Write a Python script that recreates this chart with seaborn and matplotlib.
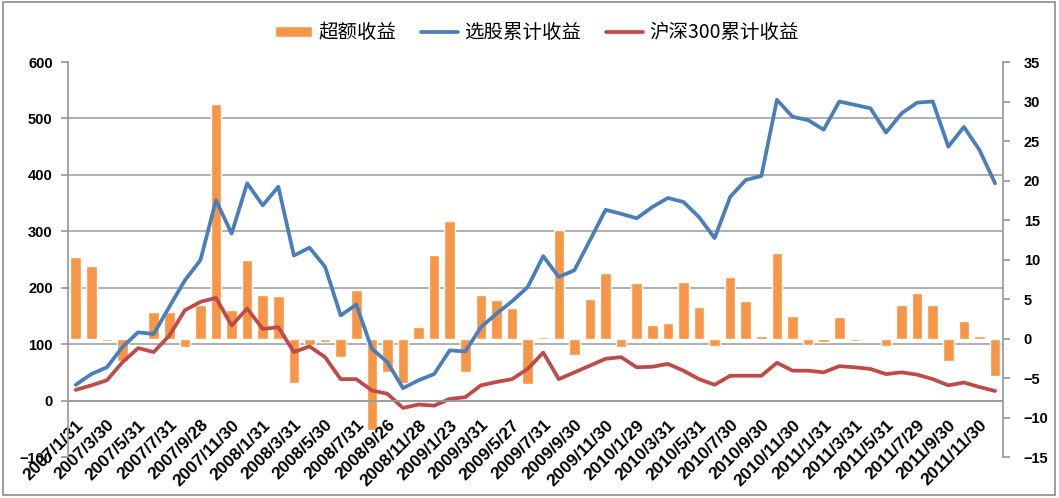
import numpy as np
import pandas as pd
import seaborn as sns
import matplotlib.pyplot as plt
from matplotlib.patches import Rectangle

# month-end dates, 2007/1 .. 2011/12
dates = [
    '2007/1/31', '2007/2/28', '2007/3/30', '2007/4/30', '2007/5/31', '2007/6/29',
    '2007/7/31', '2007/8/31', '2007/9/28', '2007/10/31', '2007/11/30', '2007/12/28',
    '2008/1/31', '2008/2/29', '2008/3/31', '2008/4/30', '2008/5/30', '2008/6/30',
    '2008/7/31', '2008/8/29', '2008/9/26', '2008/10/31', '2008/11/28', '2008/12/31',
    '2009/1/23', '2009/2/27', '2009/3/31', '2009/4/30', '2009/5/27', '2009/6/30',
    '2009/7/31', '2009/8/31', '2009/9/30', '2009/10/30', '2009/11/30', '2009/12/31',
    '2010/1/29', '2010/2/26', '2010/3/31', '2010/4/30', '2010/5/31', '2010/6/30',
    '2010/7/30', '2010/8/31', '2010/9/30', '2010/10/29', '2010/11/30', '2010/12/31',
    '2011/1/31', '2011/2/28', '2011/3/31', '2011/4/29', '2011/5/31', '2011/6/30',
    '2011/7/29', '2011/8/31', '2011/9/30', '2011/10/31', '2011/11/30', '2011/12/30',
]

# 超额收益 (right axis)
excess = [
    10.3, 9.2, -0.3, -2.8, -0.2, 3.3, 3.4, -1.1, 4.3, 29.7,
    3.6, 9.9, 5.5, 5.4, -5.6, -0.8, -0.5, -2.3, 6.2, -11.6,
    -4.3, -5.6, 1.5, 10.6, 14.9, -4.3, 5.5, 4.9, 3.9, -5.7,
    0.2, 13.7, -2.1, 5.0, 8.3, -1.1, 7.0, 1.7, 2.0, 7.2,
    4.0, -1.0, 7.8, 4.7, 0.3, 10.8, 2.9, -0.8, -0.5, 2.7,
    -0.3, 0.1, -1.0, 4.2, 5.7, 4.2, -2.9, 2.2, 0.3, -4.7,
]

# 选股累计收益 (left axis)
stock_cum = [
    28, 47, 59, 95, 121, 118, 166, 213, 249, 355,
    296, 385, 346, 379, 257, 271, 237, 151, 170, 92,
    68, 22, 36, 47, 89, 87, 130, 154, 176, 201,
    256, 219, 231, 284, 338, 331, 323, 343, 359, 352,
    325, 288, 361, 391, 398, 533, 503, 497, 480, 530,
    524, 518, 475, 509, 528, 530, 450, 485, 444, 385,
]

# 沪深300累计收益 (left axis)
hs300_cum = [
    19, 27, 36, 68, 93, 86, 115, 160, 175, 182,
    133, 163, 127, 130, 86, 96, 77, 38, 38, 18,
    12, -13, -7, -9, 3, 6, 27, 33, 38, 56,
    85, 38, 50, 62, 74, 77, 59, 60, 65, 53,
    38, 28, 44, 44, 44, 67, 53, 53, 50, 61,
    59, 56, 47, 50, 46, 38, 27, 32, 24, 17,
]

df = pd.DataFrame({'date': dates, 'excess': excess,
                   'stock': stock_cum, 'hs300': hs300_cum})
df['pos'] = np.arange(len(df))

sns.set_theme(style='white')
plt.rcParams['font.family'] = ['Liberation Sans', 'Noto Sans CJK SC', 'DejaVu Sans']
plt.rcParams['font.weight'] = 'bold'
plt.rcParams['text.color'] = 'black'
plt.rcParams['xtick.color'] = 'black'
plt.rcParams['ytick.color'] = 'black'

grid_c = '#9a9a9a'
fig = plt.figure(figsize=(10.59, 4.98), dpi=100)
fig.patches.append(Rectangle((0.003, 0.006), 0.993, 0.99, transform=fig.transFigure,
                             fill=False, edgecolor='#8c8c8c', linewidth=1.2))

ax = fig.add_axes([0.0642, 0.0823, 0.8828, 0.7932])   # lines, left scale
ax2 = ax.twinx()                                       # bars, right scale

# bars
sns.barplot(data=df, x='date', y='excess', ax=ax2, color='#F79646',
            saturation=1, width=0.68, label='超额收益')
ax2.set_ylim(-15, 35)
ax2.set_yticks(np.arange(-15, 36, 5))
# horizontal grid of the left scale, drawn on the bar axes so it stays behind the bars
left_ticks = np.arange(-100, 601, 100)
ax2.set_yticks(-15 + (left_ticks + 100) * 50 / 700, minor=True)
ax2.grid(which='minor', axis='y', color=grid_c, linewidth=1.1)
ax2.grid(which='major', visible=False)
ax2.set_axisbelow(True)
ax2.tick_params(axis='y', which='minor', length=0)
ax2.tick_params(axis='y', which='major', direction='out', length=5, color=grid_c,
                labelcolor='black', labelsize=10.5, pad=10)
ax2.set_ylabel('')
ax2.set_xlabel('')
for s in ['top', 'left', 'bottom']:
    ax2.spines[s].set_visible(False)
ax2.spines['right'].set_color(grid_c)

# lines
sns.lineplot(data=df, x='pos', y='stock', ax=ax, color='#4A7EBB',
             linewidth=2.7, label='选股累计收益')
sns.lineplot(data=df, x='pos', y='hs300', ax=ax, color='#BE4B48',
             linewidth=2.7, label='沪深300累计收益')
ax.set_zorder(ax2.get_zorder() + 1)
ax.patch.set_visible(False)
ax.set_ylim(-100, 600)
ax.set_yticks(left_ticks)
ax.set_xlim(-0.5, len(dates) - 0.5)
ax.set_ylabel('')
ax.set_xlabel('')
ax.grid(False)
ax.tick_params(axis='y', direction='out', length=5, color=grid_c, labelcolor='black',
               labelsize=10.5, pad=6)

# category axis sits on the left-scale zero line
ax.xaxis.set_visible(True)
ax.spines['bottom'].set_position(('data', 0))
ax.spines['bottom'].set_color(grid_c)
ax.spines['left'].set_color(grid_c)
ax.spines['top'].set_visible(False)
ax.spines['right'].set_visible(False)
ax.set_xticks(df['pos'][::2])
ax.set_xticklabels(df['date'][::2], rotation=45, ha='right', rotation_mode='anchor')
ax.set_xticks(np.arange(len(dates) + 1) - 0.5, minor=True)
ax.tick_params(axis='x', which='major', length=0, labelcolor='black', labelsize=12.5, pad=12)
ax.tick_params(axis='x', which='minor', direction='out', length=5, color=grid_c)

for lbl in ax.get_xticklabels() + ax.get_yticklabels() + ax2.get_yticklabels():
    lbl.set_fontweight('bold')

for a in (ax, ax2):
    if a.get_legend() is not None:
        a.get_legend().remove()

h1, l1 = ax2.get_legend_handles_labels()
h2, l2 = ax.get_legend_handles_labels()
fig.legend(h1 + h2, l1 + l2, loc='center', bbox_to_anchor=(0.507, 0.934), ncol=3,
           frameon=False, prop={'family': ['Noto Sans CJK SC'], 'size': 14, 'weight': 'normal'},
           handlelength=1.9, handleheight=0.55, columnspacing=1.3, handletextpad=0.3)

fig.savefig('out.png', dpi=100)
